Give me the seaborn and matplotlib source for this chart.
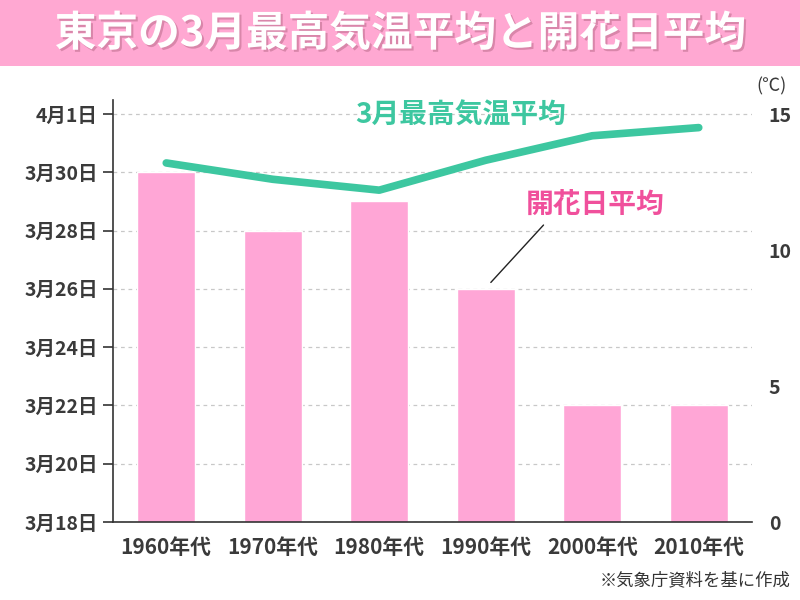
import matplotlib
matplotlib.use("Agg")
import matplotlib.pyplot as plt
import matplotlib.patheffects as pe
import seaborn as sns
import pandas as pd

decades = ["1960年代", "1970年代", "1980年代", "1990年代", "2000年代", "2010年代"]
bloom_day = [30, 28, 29, 26, 22, 22]          # March day of average bloom
max_temp = [13.2, 12.6, 12.2, 13.3, 14.2, 14.5]  # March average max temperature
day_ticks = [18, 20, 22, 24, 26, 28, 30, 32]
day_labels = ["3月18日", "3月20日", "3月22日", "3月24日", "3月26日", "3月28日", "3月30日", "4月1日"]
temp_ticks = [0, 5, 10, 15]

sns.set_theme(style="white")
plt.rcParams['font.family'] = ['Noto Sans CJK JP', 'DejaVu Sans']

df = pd.DataFrame({"decade": decades, "bloom": bloom_day, "temp": max_temp})

fig = plt.figure(figsize=(8, 6), dpi=100)
fig.patch.set_facecolor("white")

# title bar
fig.patches.append(plt.Rectangle((0, 1 - 66 / 600), 1, 66 / 600, transform=fig.transFigure,
                                 facecolor="#ffa8d2", edgecolor="none", zorder=0))
fig.text(0.5, 1 - 34 / 600, "東京の3月最高気温平均と開花日平均", ha="center", va="center",
         color="white", fontsize=30, fontweight="bold",
         path_effects=[pe.withSimplePatchShadow(offset=(1.5, -1.5), shadow_rgbFace="#c07090", alpha=0.6)])

ax = fig.add_axes([113 / 800, 1 - 522 / 600, (752 - 113) / 800, (522 - 100) / 600])
sns.barplot(data=df, x="decade", y="bloom", color="#ffa6d6", saturation=1, width=0.54, ax=ax, zorder=2)
ax.set_ylim(18, 18 + 14 * 422 / 408)
ax.set_xlim(-0.5, 5.5)
ax.set_yticks(day_ticks)
ax.set_yticklabels(day_labels)
ax.set_xlabel("")
ax.set_ylabel("")
ax.yaxis.grid(True, linestyle=(0, (3, 3)), color="#c8c8c8", linewidth=0.9)
ax.set_axisbelow(True)
for s in ["top", "right"]:
    ax.spines[s].set_visible(False)
for s in ["left", "bottom"]:
    ax.spines[s].set_color("#333333")
    ax.spines[s].set_linewidth(1.2)
ax.tick_params(axis="y", which="both", left=True, length=7, width=1.2, color="#333333",
               labelsize=14, labelcolor="#3a3a3a", pad=4)
ax.tick_params(axis="x", bottom=False, labelsize=15, labelcolor="#3a3a3a", pad=5)
for lab in ax.get_yticklabels() + ax.get_xticklabels():
    lab.set_fontweight("bold")

ax2 = ax.twinx()
sns.lineplot(data=df, x="decade", y="temp", color="#3dc7a0", linewidth=5.5, ax=ax2,
             solid_capstyle="round", sort=False)
ax2.set_ylim(0, 15 * 422 / 408)
ax2.set_yticks(temp_ticks)
ax2.set_ylabel("")
ax2.set_xlabel("")
for s in ax2.spines.values():
    s.set_visible(False)
ax2.tick_params(axis="y", right=False, labelsize=14, labelcolor="#3a3a3a", pad=6)
for lab in ax2.get_yticklabels():
    lab.set_fontweight("bold")
ax2.set_xlim(-0.5, 5.5)

ax2.text(2.76, 14.95, "3月最高気温平均", color="#3dc7a0", fontsize=20, fontweight="bold",
         ha="center", va="center")
ax.text(4.03, 28.88, "開花日平均", color="#f0509c", fontsize=20, fontweight="bold",
        ha="center", va="center")
ax.annotate("", xy=(3.03, 26.15), xytext=(3.56, 28.26),
            arrowprops=dict(arrowstyle="-", color="#222222", lw=1.0))

fig.text(772 / 800, 1 - 86 / 600, "(℃)", ha="center", va="center", fontsize=13, color="#3a3a3a")
fig.text(790 / 800, 1 - 580 / 600, "※気象庁資料を基に作成", ha="right", va="center",
         fontsize=12.5, color="#333333")

fig.savefig("out.png", dpi=100)
